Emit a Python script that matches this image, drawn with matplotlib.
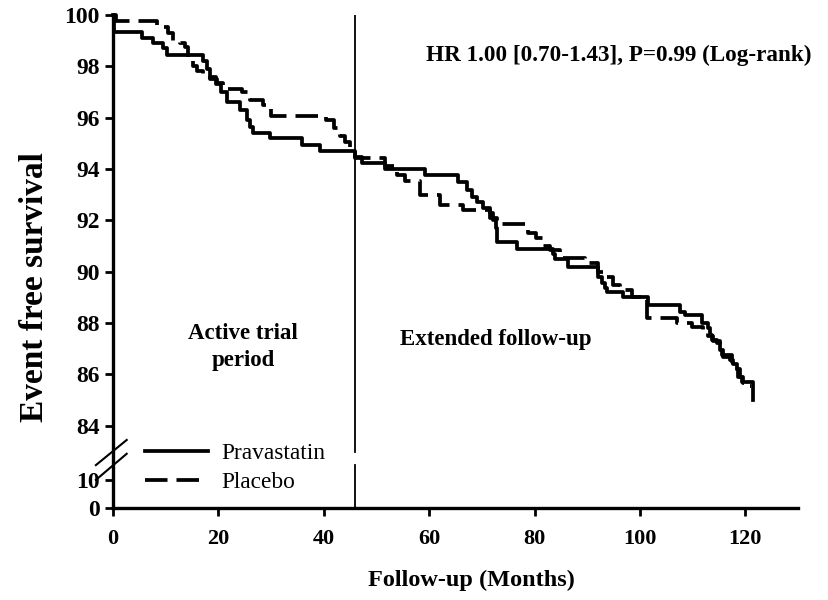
import numpy as np
import matplotlib.pyplot as plt

# Kaplan-Meier steps (months, % event free)
months_prava = [0, 0.2, 5.5, 7.6, 9.5, 10.2, 17.1, 17.8, 18.5, 19.5, 20.5, 21.6,
                24.1, 25.4, 26.0, 26.6, 29.8, 35.9, 39.3, 45.9, 47.2, 51.6, 59.2,
                65.5, 67.2, 68.1, 69.1, 70.2, 71.5, 72.1, 72.7, 72.9, 76.7, 83.5,
                83.9, 86.3, 92.0, 92.8, 93.4, 93.7, 96.8, 101.5, 107.6, 108.5,
                111.8, 112.9, 113.3, 113.7, 114.6, 115.2, 115.7, 117.1, 117.6,
                118.4, 119.0, 119.4, 121.4]
surv_prava = [100, 99.35, 99.1, 98.9, 98.7, 98.45, 98.2, 97.9, 97.6, 97.3, 97.0, 96.6,
              96.3, 95.9, 95.65, 95.4, 95.2, 94.95, 94.7, 94.47, 94.24, 94.0, 93.75,
              93.5, 93.2, 92.9, 92.7, 92.5, 92.3, 92.0, 91.7, 91.15, 90.9, 90.7,
              90.5, 90.2, 89.8, 89.57, 89.37, 89.2, 89.0, 88.7, 88.45, 88.3,
              88.0, 87.8, 87.55, 87.35, 87.24, 86.97, 86.7, 86.58, 86.4,
              86.2, 85.9, 85.7, 85.0]

months_placebo = [0, 0.5, 8.3, 10.4, 11.4, 12.7, 13.7, 14.2, 15.2, 16.0, 17.1, 18.4,
                  19.7, 20.9, 24.5, 26.0, 28.5, 30.0, 40.5, 42.0, 43.0, 44.0, 45.0,
                  45.9, 51.6, 53.9, 55.4, 58.3, 62.0, 66.4, 71.5, 72.9, 78.7, 80.3,
                  81.6, 82.9, 84.8, 89.6, 92.0, 93.5, 94.9, 96.2, 98.5, 101.3, 107.0,
                  109.9, 112.0, 112.9, 113.9, 115.2, 115.6, 117.5, 118.0, 118.6,
                  119.5, 120.9, 121.0]
surv_placebo = [100, 99.78, 99.55, 99.3, 99.0, 98.9, 98.75, 98.3, 98.0, 97.8, 97.6, 97.5,
                97.35, 97.1, 97.0, 96.7, 96.5, 96.05, 95.9, 95.6, 95.3, 95.06, 94.8,
                94.45, 94.1, 93.75, 93.55, 93.0, 92.6, 92.4, 92.1, 91.85, 91.5, 91.3,
                91.0, 90.85, 90.55, 90.35, 90.0, 89.8, 89.5, 89.3, 89.0, 88.2, 88.0,
                87.85, 87.7, 87.5, 87.3, 87.1, 86.75, 86.5, 86.2, 85.9,
                85.65, 85.55, 85.55]

x_ticks = [0, 20, 40, 60, 80, 100, 120]
y_ticks = [0, 10, 84, 86, 88, 90, 92, 94, 96, 98, 100]

# broken y axis: 0-10 squeezed at the bottom, 10-83 almost removed
brk_in = [0, 10, 83, 200]
brk_out = [80.8, 81.9, 83, 200]


def fwd(y):
    return np.interp(y, brk_in, brk_out)


def inv(v):
    return np.interp(v, brk_out, brk_in)


plt.rcParams['font.family'] = ['Liberation Serif', 'DejaVu Serif']

fig = plt.figure(figsize=(8.29, 6.0), dpi=100)
ax = fig.add_axes([113 / 829, 92 / 600, 685 / 829, 493 / 600])
ax.set_yscale('function', functions=(fwd, inv))

dash = (0, (6, 2.4))
ax.step(months_prava, surv_prava, where='post', color='k', lw=2.7,
        label='Pravastatin', clip_on=False)
ax.step(months_placebo, surv_placebo, where='post', color='k', lw=2.7,
        linestyle=dash, label='Placebo', clip_on=False)

# end of active trial
ax.plot([46, 46], [83, 100], color='k', lw=1.3)
ax.plot([46, 46], [0, 48.5], color='k', lw=1.3)

ax.set_xlim(0, 130)
ax.set_ylim(0, 100)
ax.set_xticks(x_ticks)
ax.set_yticks(y_ticks)
ax.minorticks_off()

for s in ['top', 'right']:
    ax.spines[s].set_visible(False)
for s in ['left', 'bottom']:
    ax.spines[s].set_linewidth(2.4)
ax.tick_params(axis='both', direction='out', length=6, width=2)
ax.tick_params(axis='x', pad=9, labelsize=16)
ax.tick_params(axis='y', pad=3.5, labelsize=17)
for lab in ax.get_xticklabels() + ax.get_yticklabels():
    lab.set_fontweight('bold')

# axis break marks
for y0, y1 in [(0.087, 0.138), (0.057, 0.110)]:
    ax.plot([-0.025, 0.020], [y0, y1], transform=ax.transAxes, color='k',
            lw=1.5, clip_on=False)

ax.text(132.6, 98.44, 'HR 1.00 [0.70-1.43], P=0.99 (Log-rank)', ha='right',
        va='center', fontsize=16.7, fontweight='bold')
ax.text(24.7, 87.08, 'Active trial\nperiod', ha='center', va='center',
        fontsize=16.5, fontweight='bold', linespacing=1.35)
ax.text(54.5, 87.35, 'Extended follow-up', ha='left', va='center',
        fontsize=16.5, fontweight='bold')

fig.text(35 / 829, 1 - 287 / 600, 'Event free survival', rotation=90,
         ha='center', va='center', fontsize=24, fontweight='bold')
fig.text(471 / 829, 1 - 580 / 600, 'Follow-up (Months)', ha='center',
         va='center', fontsize=17.5, fontweight='bold')

ax.legend(loc='upper left', bbox_to_anchor=(0.047, 0.133), frameon=False,
          fontsize=16.8, handlelength=2.7, handletextpad=0.55, labelspacing=0.35,
          borderpad=0, borderaxespad=0)

fig.savefig('out.png', dpi=100)
